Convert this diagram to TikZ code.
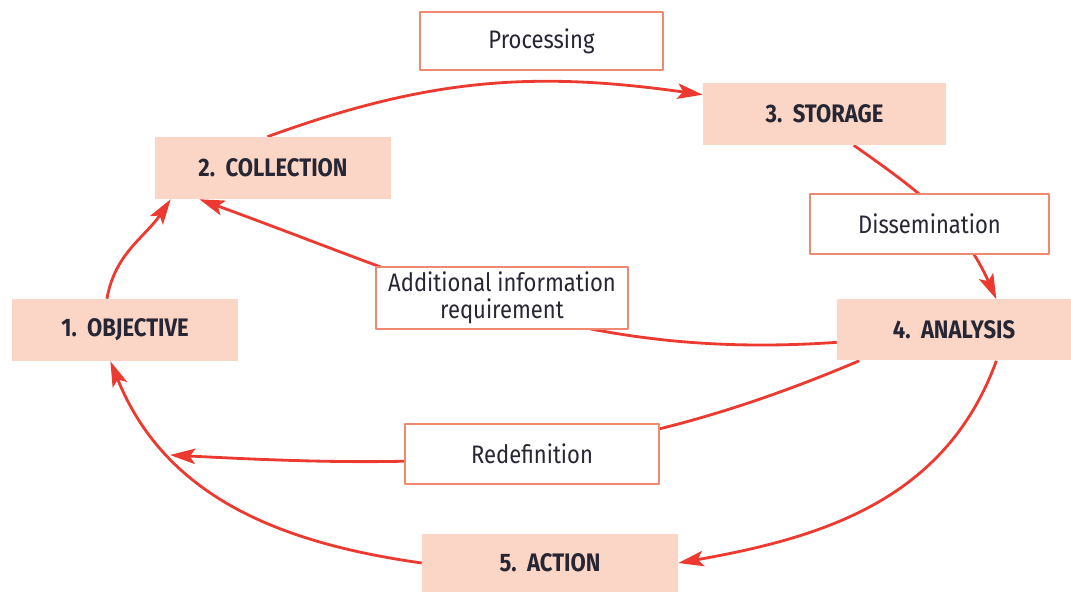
\documentclass[tikz,border=0pt]{standalone}
\usepackage{fontspec}
\setmainfont{Fira Sans}[FakeStretch=0.87]
\usetikzlibrary{arrows.meta,backgrounds}
\definecolor{stagefill}{RGB}{251,214,198}
\definecolor{boxline}{RGB}{241,137,112}
\definecolor{flowred}{RGB}{237,58,48}
\definecolor{inktext}{RGB}{38,38,52}

\begin{document}
\begin{tikzpicture}[x=0.025cm,y=0.025cm,line join=round,line cap=round,>={Stealth[length=18pt,width=11pt,inset=4pt]},
		stage/.style={fill=stagefill,text=inktext,inner sep=0pt,font=\fontsize{18}{20}\selectfont\bfseries},
		activity/.style={draw=boxline,line width=1pt,fill=white,text=inktext,inner sep=0pt,align=center,font=\fontsize{18}{19}\selectfont},
		flow/.style={->,draw=flowred,line width=2pt}]
	\def\px{0.025cm}
	\useasboundingbox (0,0) rectangle (1071,592);
	% stages of the cycle
	\node[stage,minimum width=226*\px,minimum height=62*\px] (objective) at (125,262) {1.\ \ OBJECTIVE};
	\node[stage,minimum width=236*\px,minimum height=62*\px] (collection) at (273,424) {2.\ \ COLLECTION};
	\node[stage,minimum width=243*\px,minimum height=62*\px] (storage) at (824.5,478) {3.\ \ STORAGE};
	\node[stage,minimum width=234*\px,minimum height=61*\px] (analysis) at (954,262) {4.\ \ ANALYSIS};
	\node[stage,minimum width=256*\px,minimum height=58*\px] (action) at (550,29) {5.\ \ ACTION};
	% activities between the stages
	\node[activity,minimum width=243*\px,minimum height=58*\px] (processing) at (541.5,551) {Processing};
	\node[activity,minimum width=239*\px,minimum height=60*\px] (dissemination) at (929.5,368) {Dissemination};
	\node[activity,minimum width=252*\px,minimum height=62*\px] (requirement) at (502,294) {Additional information\\requirement};
	\node[activity,minimum width=254*\px,minimum height=60*\px] (redefinition) at (532,138) {Redefinition};
	\coordinate (redefend) at (170,137);
	\begin{scope}[on background layer]
		\draw[flow] (collection.100) to[out=20,in=172] (storage.171);
		\draw[flow] (storage.-47) to[out=-35,in=114] (analysis.36);
		\draw[flow] (analysis.186) to[out=184,in=-20] (collection.203);
		\draw[flow] (analysis.198) to[out=203,in=-3] (redefend);
		\draw[flow] (analysis.-36) to[out=-110,in=10] (action.east);
		\draw[flow] (action.west) to[out=172,in=-68] (objective.245);
		\draw[flow] (objective.120) to[out=80,in=-124] (collection.197);
	\end{scope}
\end{tikzpicture}
\end{document}
